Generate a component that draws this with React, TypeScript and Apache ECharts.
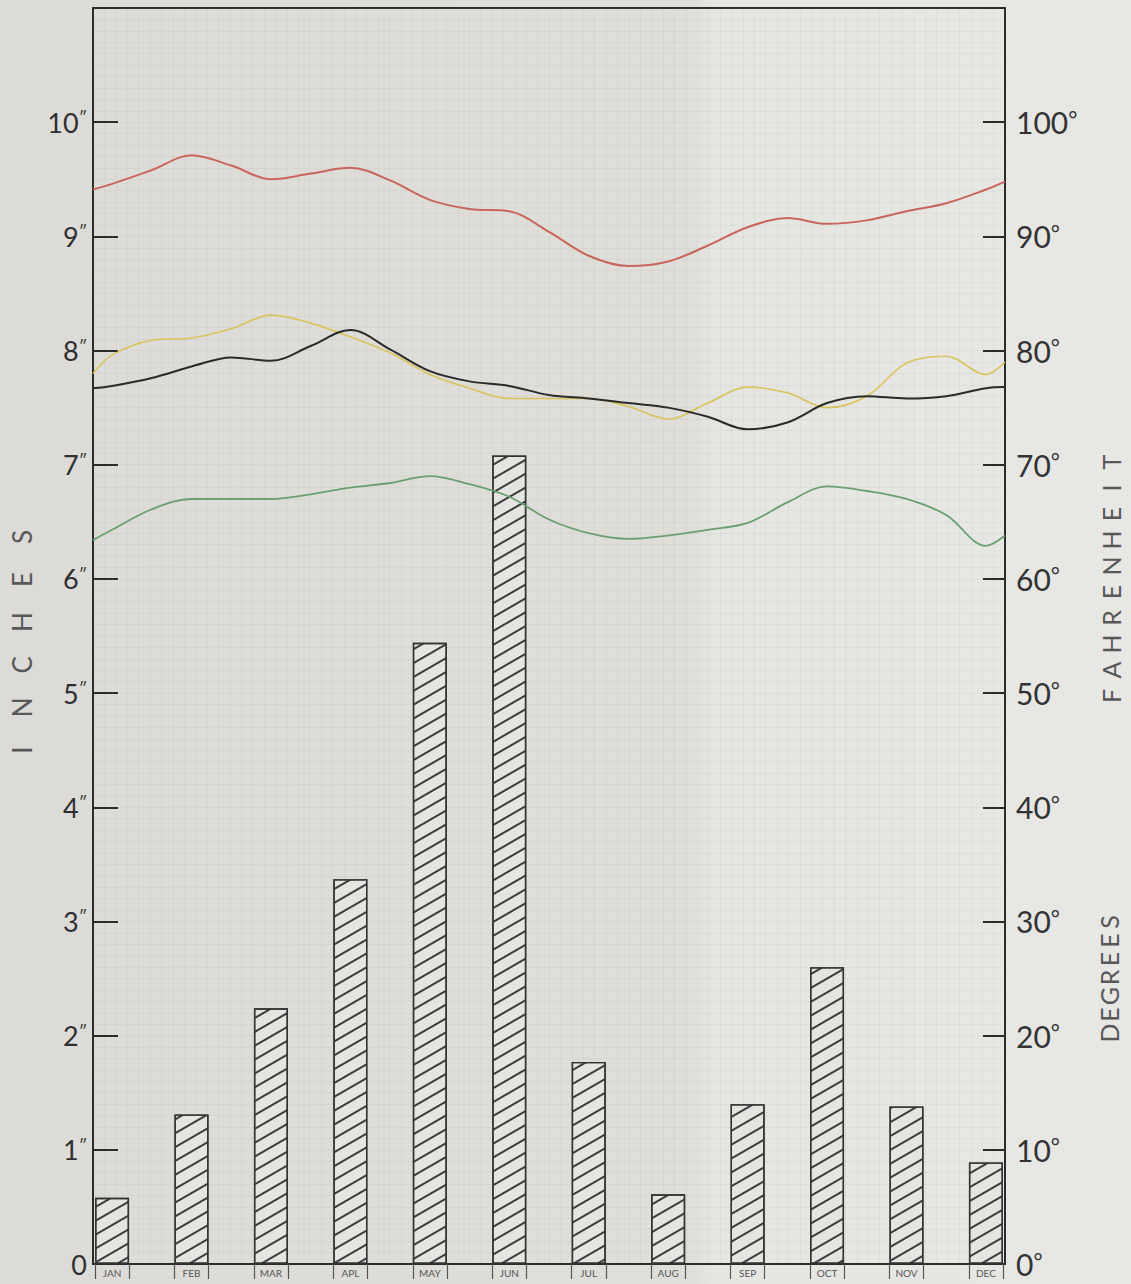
import React, { useEffect, useRef } from 'react';
import * as echarts from 'echarts';

// ---------- data ----------
const MONTHS = ['JAN', 'FEB', 'MAR', 'APL', 'MAY', 'JUN', 'JUL', 'AUG', 'SEP', 'OCT', 'NOV', 'DEC'];
const MONTH_POS = [0, 1, 2, 3, 4, 5, 6, 7, 8, 9, 10, 11];
// rainfall, inches
const RAIN_IN = [0.58, 1.31, 2.24, 3.37, 5.44, 7.08, 1.77, 0.61, 1.4, 2.6, 1.38, 0.89];
// positions (in months, Jan = 0) where the temperature curves were read
const CURVE_POS = [-0.24, 0, 0.5, 1, 1.5, 2, 2.5, 3, 3.5, 4, 4.5, 5, 5.5, 6, 6.5, 7, 7.5, 8, 8.5, 9, 9.5, 10, 10.5, 11, 11.24];
// temperatures, degrees Fahrenheit
const RED_F = [94.1, 94.6, 95.8, 97.1, 96.2, 95.0, 95.5, 96.0, 94.9, 93.2, 92.4, 92.2, 90.4, 88.3, 87.4, 87.8, 89.2, 90.8, 91.6, 91.1, 91.4, 92.2, 92.9, 94.1, 94.8];
const YELLOW_F = [78.0, 79.6, 80.9, 81.1, 81.9, 83.1, 82.4, 81.2, 79.8, 77.9, 76.7, 75.8, 75.8, 75.8, 75.1, 74.0, 75.4, 76.8, 76.3, 75.0, 76.0, 78.9, 79.5, 77.9, 79.0];
const BLACK_F = [76.7, 76.9, 77.6, 78.6, 79.4, 79.1, 80.4, 81.8, 80.1, 78.2, 77.3, 76.9, 76.1, 75.8, 75.4, 75.0, 74.2, 73.1, 73.7, 75.4, 76.0, 75.8, 76.0, 76.7, 76.8];
const GREEN_F = [63.4, 64.3, 66.1, 67.0, 67.0, 67.0, 67.4, 68.0, 68.4, 69.0, 68.3, 67.2, 65.2, 64.0, 63.5, 63.8, 64.3, 64.9, 66.7, 68.1, 67.7, 67.0, 65.6, 62.9, 63.8];

// axis ranges / ticks
const INCH_MAX = 11;
const DEG_MAX = 110;
const X_MIN = -0.24;
const X_MAX = 11.24;
const BAR_HALF = 0.215;

const FONT = "Lato, 'Open Sans', sans-serif";
const INK = '#2b2b2b';
const PAPER_GRID = 'rgba(140,140,130,0.09)';

const W = 1131;
const H = 1284;

function spacedLetters(word: string, x: number, yBottom: number, step: number, fontSize: number) {
  return word.split('').map((ch, i) => ({
    type: 'text',
    x,
    y: yBottom - i * step,
    rotation: Math.PI / 2,
    silent: true,
    style: {
      text: ch,
      fontSize,
      fontFamily: FONT,
      fill: '#585858',
      align: 'center',
      verticalAlign: 'middle',
    },
  }));
}

function buildOption() {
  const curve = (vals: number[]) => CURVE_POS.map((x, i) => [x, vals[i]]);
  const lineSeries = (name: string, vals: number[], color: string, width: number) => ({
    name,
    type: 'line',
    xAxisIndex: 0,
    yAxisIndex: 1,
    data: curve(vals),
    smooth: 0.35,
    symbol: 'none',
    showSymbol: false,
    lineStyle: { color, width },
    z: 5,
  });

  const tickValues: number[] = [];
  MONTH_POS.forEach((m) => {
    tickValues.push(m - BAR_HALF, m + BAR_HALF);
  });

  return {
    animation: false,
    backgroundColor: 'transparent',
    grid: {
      left: 93,
      right: 126,
      top: 8,
      bottom: 20,
      show: true,
      borderColor: INK,
      borderWidth: 2,
      backgroundColor: 'transparent',
    },
    xAxis: [
      {
        type: 'value',
        min: X_MIN,
        max: X_MAX,
        position: 'bottom',
        axisLine: { show: true, onZero: false, lineStyle: { color: INK, width: 2 } },
        axisTick: {
          show: true,
          customValues: tickValues,
          inside: false,
          length: 15,
          lineStyle: { color: '#555', width: 1.2 },
        },
        axisLabel: {
          customValues: MONTH_POS,
          formatter: (v: number) => MONTHS[Math.round(v)] || '',
          fontSize: 10,
          fontFamily: FONT,
          color: '#555',
          margin: 4,
        },
        splitLine: { show: false },
      },
      {
        type: 'value',
        min: 0,
        max: 80,
        interval: 1,
        position: 'top',
        axisLine: { show: false, onZero: false },
        axisTick: { show: false },
        axisLabel: { show: false },
        splitLine: { show: true, lineStyle: { color: PAPER_GRID, width: 1 } },
      },
    ],
    yAxis: [
      {
        type: 'value',
        min: 0,
        max: INCH_MAX,
        interval: 1,
        position: 'left',
        axisLine: { show: true, onZero: false, lineStyle: { color: INK, width: 2 } },
        axisTick: { show: true, inside: true, length: 25, lineStyle: { color: INK, width: 2 } },
        axisLabel: {
          margin: 6,
          formatter: (v: number) => (v === INCH_MAX ? '' : v === 0 ? '{n|0}' : `{n|${v}}{s|″}`),
          rich: {
            n: { fontSize: 27, fontFamily: FONT, color: '#303030' },
            s: { fontSize: 16, fontFamily: FONT, color: '#303030', verticalAlign: 'top' },
          },
        },
        splitLine: { show: true, lineStyle: { color: PAPER_GRID, width: 1 } },
        minorTick: { show: false, splitNumber: 10 },
        minorSplitLine: { show: true, lineStyle: { color: PAPER_GRID, width: 1 } },
      },
      {
        type: 'value',
        min: 0,
        max: DEG_MAX,
        interval: 10,
        position: 'right',
        axisLine: { show: true, onZero: false, lineStyle: { color: INK, width: 2 } },
        axisTick: { show: true, inside: true, length: 22, lineStyle: { color: INK, width: 2 } },
        axisLabel: {
          margin: 11,
          formatter: (v: number) => (v === DEG_MAX ? '' : `{n|${v}}{d|°}`),
          rich: {
            n: { fontSize: 30, fontFamily: FONT, color: '#333' },
            d: { fontSize: 22, fontFamily: FONT, color: '#333', verticalAlign: 'top' },
          },
        },
        splitLine: { show: false },
      },
    ],
    series: [
      {
        name: 'Rainfall',
        type: 'bar',
        xAxisIndex: 0,
        yAxisIndex: 0,
        data: RAIN_IN.map((v, i) => [MONTH_POS[i], v]),
        barWidth: 34,
        itemStyle: {
          color: '#e4e4e0',
          borderColor: '#333',
          borderWidth: 1.4,
          decal: {
            symbol: 'rect',
            symbolSize: 1,
            color: '#3c3c3c',
            dashArrayX: [1, 0],
            dashArrayY: [1.2, 10],
            rotation: -Math.PI / 6,
          },
        },
        z: 3,
      },
      lineSeries('Max', RED_F, '#c8665c', 2),
      lineSeries('Yellow', YELLOW_F, '#d8c35c', 1.6),
      lineSeries('Black', BLACK_F, '#2a2a2a', 2),
      lineSeries('Green', GREEN_F, '#6aa070', 1.8),
    ],
    graphic: [
      ...spacedLetters('INCHES', 22, 750, 42.6, 26),
      ...spacedLetters('FAHRENHEIT', 1111, 696, 26, 25),
      ...spacedLetters('DEGREES', 1109, 1033, 18.5, 25),
    ],
  };
}

export default function App() {
  const ref = useRef<HTMLDivElement>(null);
  useEffect(() => {
    document.body.style.margin = '0';
    document.body.style.background = '#e0dfdb';
    const chart = echarts.init(ref.current as HTMLDivElement, null, { renderer: 'svg' });
    chart.setOption(buildOption() as any);
    return () => chart.dispose();
  }, []);
  return (
    <div
      ref={ref}
      style={{
        width: W,
        height: H,
        background:
          'linear-gradient(90deg, #dcdbd7 0%, #dfded9 61%, #e5e5e2 63%, #e7e7e4 100%)',
      }}
    />
  );
}
